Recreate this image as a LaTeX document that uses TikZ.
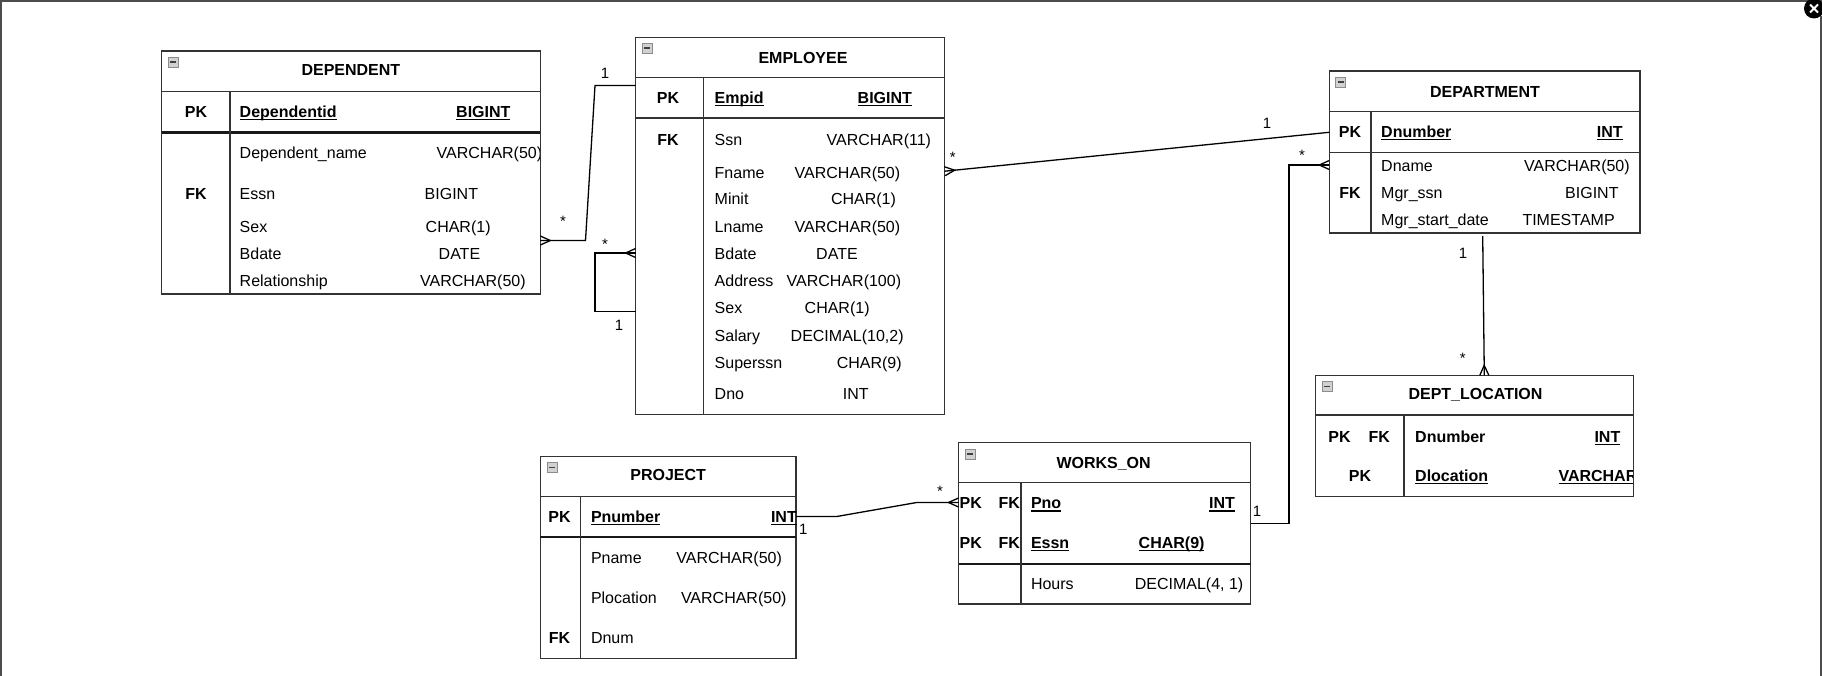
\documentclass[tikz,border=0pt]{standalone}
\usepackage{fontspec}
\setmainfont{Liberation Sans}
\usetikzlibrary{calc}
\newsavebox\ulbox
\newcommand\ulx[1]{\sbox\ulbox{#1}\rlap{\rule[-2.6pt]{\wd\ulbox}{1.3pt}}\usebox\ulbox}
\definecolor{bord}{HTML}{333333}
\newcommand\crow[2]{\draw[conn] ($(#1)!4.5pt!90:(#2)$) -- ($(#1)!10pt!(#2)$) -- ($(#1)!4.5pt!-90:(#2)$);}
\newcommand\rw[6]{\node[txt] (#1n) at (#3,#2) {#4};\node[txt] (#1t) at (#5,#2) {#6};}
\begin{document}
\begin{tikzpicture}[x=1pt,y=-1pt,
  ent/.style={draw=bord,line width=1.3pt,inner sep=0,outer sep=0,anchor=north west},
  sep/.style={draw=bord,line width=1.3pt},
  thk/.style={draw=black!90,line width=2.2pt},
  txt/.style={inner sep=0,anchor=west,text height=11.5pt,text depth=0pt,font=\fontsize{16}{19}\selectfont},
  btxt/.style={txt,font=\fontsize{16}{19}\selectfont\bfseries},
  ctr/.style={btxt,anchor=center},
  lab/.style={inner sep=0,anchor=base,font=\fontsize{15}{18}\selectfont},
  conn/.style={draw=black,line width=1.3pt},
  minicon/.pic={\draw[draw=black!45,fill=black!18,line width=0.7pt] (0,0) rectangle (10,10);
                \fill[black!75] (2,4.2) rectangle (8,5.9);}
]
\useasboundingbox (0,0) rectangle (1822,676);
\fill[white] (0,0) rectangle (1822,676);
% window frame
\fill[black!70] (0,0) rectangle (1822,2.5);
\draw[black!70,line width=1.5pt] (0.75,0) -- (0.75,676);
\draw[black!70,line width=1.5pt] (1820.8,16) -- (1820.8,676);
\fill[black] (1814,8.5) circle (10);
\draw[white,line width=2pt] (1810,4.5) -- (1818,12.5) (1810,12.5) -- (1818,4.5);

% ===== DEPENDENT =====
\begin{scope}
\clip (161.5,51.1) rectangle (540.3,294);
\rw{d1}{152.5}{239.5}{Dependent\_name}{436.5}{VARCHAR(50)}
\end{scope}
\node[ent,minimum width=378.8pt,minimum height=242.9pt] (dep) at (161.5,51.1) {};
\draw[sep] (161.5,91.8) -- (540.3,91.8);
\draw[thk] (161.5,132.5) -- (540.3,132.5);
\draw[sep] (230.1,91.8) -- (230.1,294);
\pic at (168,57) {minicon};
\node[ctr] (depT) at (350.9,70) {DEPENDENT};
\node[ctr] (depPK) at (196,112) {PK};
\node[btxt] (depPKn) at (239.5,112) {\ulx{Dependentid}};
\node[btxt] (depPKt) at (456,112) {\ulx{BIGINT}};
\node[ctr] (depFK) at (196,194) {FK};
\rw{d2}{194}{239.5}{Essn}{424.5}{BIGINT}
\rw{d3}{227}{239.5}{Sex}{425.5}{CHAR(1)}
\rw{d4}{253.5}{239.5}{Bdate}{438.5}{DATE}
\rw{d5}{280.5}{239.5}{Relationship}{420}{VARCHAR(50)}

% ===== EMPLOYEE =====
\node[ent,minimum width=309.1pt,minimum height=377.6pt] (emp) at (635.6,37.2) {};
\draw[sep] (635.6,77.5) -- (944.7,77.5);
\draw[sep] (635.6,118) -- (944.7,118);
\draw[sep] (703.2,77.5) -- (703.2,414.8);
\pic at (642,43) {minicon};
\node[ctr] (empT) at (803,57.5) {EMPLOYEE};
\node[ctr] (empPK) at (668,98) {PK};
\node[btxt] (empPKn) at (714.5,98) {\ulx{Empid}};
\node[btxt] (empPKt) at (857.5,98) {\ulx{BIGINT}};
\node[ctr] (empFK) at (668,140) {FK};
\rw{e1}{140}{714.5}{Ssn}{826.5}{VARCHAR(11)}
\rw{e2}{172.5}{714.5}{Fname}{794.5}{VARCHAR(50)}
\rw{e3}{199}{714.5}{Minit}{830.8}{CHAR(1)}
\rw{e4}{226.6}{714.5}{Lname}{794.5}{VARCHAR(50)}
\rw{e5}{253.5}{714.5}{Bdate}{816}{DATE}
\rw{e6}{281}{714.5}{Address}{786.5}{VARCHAR(100)}
\rw{e7}{308}{714.5}{Sex}{804.5}{CHAR(1)}
\rw{e8}{335.8}{714.5}{Salary}{790.5}{DECIMAL(10,2)}
\rw{e9}{362.5}{714.5}{Superssn}{836.6}{CHAR(9)}
\rw{e10}{394}{714.5}{Dno}{842.6}{INT}

% ===== DEPARTMENT =====
\node[ent,minimum width=310.8pt,minimum height=162pt] (dept) at (1329.3,71) {};
\draw[sep] (1329.3,111.7) -- (1640.1,111.7);
\draw[sep] (1329.3,152.3) -- (1640.1,152.3);
\draw[sep] (1371,111.7) -- (1371,233);
\pic at (1335.5,77) {minicon};
\node[ctr] (deptT) at (1485,91.5) {DEPARTMENT};
\node[ctr] (deptPK) at (1350,132) {PK};
\node[btxt] (deptPKn) at (1381,132) {\ulx{Dnumber}};
\node[btxt] (deptPKt) at (1596.6,132) {\ulx{INT}};
\rw{p1}{165.5}{1381}{Dname}{1524}{VARCHAR(50)}
\node[ctr] (deptFK) at (1350,193) {FK};
\rw{p2}{193}{1381}{Mgr\_ssn}{1565}{BIGINT}
\rw{p3}{219.5}{1381}{Mgr\_start\_date}{1522.3}{TIMESTAMP}

% ===== DEPT_LOCATION =====
\begin{scope}
\clip (1315.5,375.3) rectangle (1633.5,496.6);
\node[btxt] (dlVt) at (1558.3,476) {\ulx{VARCHAR}};
\end{scope}
\node[ent,minimum width=318pt,minimum height=121.3pt] (dloc) at (1315.5,375.3) {};
\draw[sep] (1315.5,415) -- (1633.5,415);
\draw[sep] (1404,415) -- (1404,496.6);
\pic at (1322,381.5) {minicon};
\node[ctr] (dlT) at (1475.5,394) {DEPT\_LOCATION};
\node[ctr] (dlPK1) at (1339.5,437) {PK};
\node[ctr] (dlFK1) at (1379.3,437) {FK};
\node[btxt] (dlDn) at (1415,437) {Dnumber};
\node[btxt] (dlDt) at (1594.3,437) {\ulx{INT}};
\node[ctr] (dlPK2) at (1360,476) {PK};
\node[btxt] (dlVn) at (1415,476) {\ulx{Dlocation}};

% ===== PROJECT =====
\node[ent,minimum width=255.7pt,minimum height=202.3pt] (proj) at (540.3,456.2) {};
\draw[sep] (540.3,496.2) -- (796,496.2);
\draw[thk] (540.3,536.8) -- (796,536.8);
\draw[sep] (580.2,496.2) -- (580.2,658.5);
\pic at (547,462.5) {minicon};
\node[ctr] (projT) at (668.2,475.2) {PROJECT};
\node[ctr] (projPK) at (559.5,516.8) {PK};
\node[btxt] (projPKn) at (590.8,516.8) {\ulx{Pnumber}};
\node[btxt] (projPKt) at (770.8,516.8) {\ulx{INT}};
\rw{j1}{557.5}{590.8}{Pname}{676.2}{VARCHAR(50)}
\rw{j2}{597.3}{590.8}{Plocation}{680.8}{VARCHAR(50)}
\node[ctr] (projFK) at (559.5,637.5) {FK};
\node[txt] (j3n) at (590.8,637.5) {Dnum};

% ===== WORKS_ON =====
\node[ent,minimum width=292.3pt,minimum height=161.6pt] (wo) at (958.5,442.5) {};
\draw[sep] (958.5,482.3) -- (1250.8,482.3);
\draw[thk] (958.5,563.8) -- (1250.8,563.8);
\draw[sep] (1021,482.3) -- (1021,604.1);
\pic at (965,449) {minicon};
\node[ctr] (woT) at (1103.6,462.4) {WORKS\_ON};
\node[btxt] (woPK1) at (959.5,503.2) {PK};
\node[btxt] (woFK1) at (998.5,503.2) {FK};
\node[btxt] (woPn) at (1030.8,503.2) {\ulx{Pno}};
\node[btxt] (woPt) at (1209,503.2) {\ulx{INT}};
\node[btxt] (woPK2) at (959.5,542.7) {PK};
\node[btxt] (woFK2) at (998.5,542.7) {FK};
\node[btxt] (woEn) at (1030.8,542.7) {\ulx{Essn}};
\node[btxt] (woEt) at (1138.5,542.7) {\ulx{CHAR(9)}};
\rw{w3}{583.7}{1030.8}{Hours}{1134.6}{DECIMAL(4, 1)}

% ===== connectors =====
% DEPENDENT - EMPLOYEE
\coordinate (c1a) at ($(emp.north west)+(0,48.3)$);
\coordinate (c1b) at (595,85.5);
\coordinate (c1c) at (585.5,240.5);
\coordinate (c1d) at ($(dep.north east)+(0,189.4)$);
\draw[conn] (c1a) -- (c1b) -- (c1c) -- (c1d);
\crow{c1d}{c1c}
\node[lab] at (605,78.4) {1};
\node[lab] at (563,226.2) {*};
% EMPLOYEE self
\coordinate (c2a) at ($(emp.north west)+(0,215.8)$);
\coordinate (c2b) at (595,253);
\coordinate (c2c) at (595,311.5);
\coordinate (c2d) at ($(emp.north west)+(0,274.3)$);
\draw[conn] (c2a) -- (c2b) -- (c2c) -- (c2d);
\crow{c2a}{c2b}
\node[lab] at (605,249.7) {*};
\node[lab] at (619,330.4) {1};
% EMPLOYEE - DEPARTMENT
\coordinate (c3a) at ($(emp.north east)+(0,134)$);
\coordinate (c3b) at ($(dept.north west)+(0,61.3)$);
\draw[conn] (c3a) -- (c3b);
\crow{c3a}{c3b}
\node[lab] at (952.7,162.2) {*};
\node[lab] at (1267,128.9) {1};
% DEPARTMENT - WORKS_ON
\coordinate (c4a) at ($(dept.north west)+(0,94)$);
\coordinate (c4b) at (1289,165);
\coordinate (c4c) at (1289,523.5);
\coordinate (c4d) at ($(wo.north east)+(0,81)$);
\draw[conn] (c4a) -- (c4b) -- (c4c) -- (c4d);
\crow{c4a}{c4b}
\node[lab] at (1302,160.7) {*};
\node[lab] at (1257,516.4) {1};
% DEPARTMENT - DEPT_LOCATION
\coordinate (c5a) at ($(dept.south west)+(153.4,3)$);
\coordinate (c5b) at ($(dloc.north west)+(168.8,0)$);
\draw[conn] (c5a) -- (c5b);
\crow{c5b}{c5a}
\node[lab] at (1463,258.4) {1};
\node[lab] at (1462.7,363.2) {*};
% PROJECT - WORKS_ON
\coordinate (c6a) at ($(proj.north east)+(0,60.3)$);
\coordinate (c6b) at (836.7,516.5);
\coordinate (c6c) at (916.7,502.5);
\coordinate (c6d) at ($(wo.north west)+(0,60)$);
\draw[conn] (c6a) -- (c6b) -- (c6c) -- (c6d);
\crow{c6d}{c6c}
\node[lab] at (803.3,534.9) {1};
\node[lab] at (940,496.2) {*};
\end{tikzpicture}
\end{document}
